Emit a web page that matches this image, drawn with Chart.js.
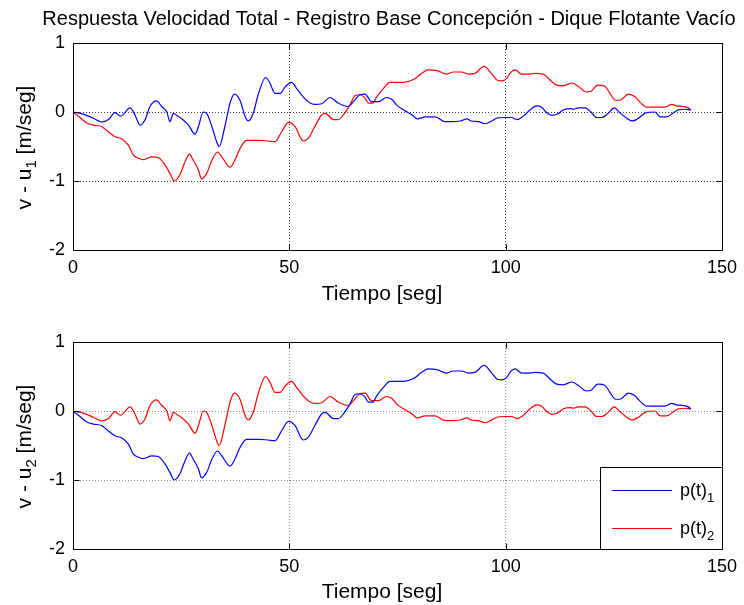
<!DOCTYPE html>
<html lang="es">
<head>
<meta charset="UTF-8" />
<title>Respuesta Velocidad Total</title>
<script src="https://cdn.jsdelivr.net/npm/chart.js@4.4.1/dist/chart.umd.min.js"></script>
<style>
  body { margin: 0; background: #fff; }
  .panel { position: absolute; left: 0; width: 744px; }
</style>
</head>
<body>
<div class="panel" style="top:0;height:310px"><canvas id="chartTop" width="744" height="310"></canvas></div>
<div class="panel" style="top:300px;height:305px"><canvas id="chartBottom" width="744" height="305"></canvas></div>
<script>
// record 1 (blue on top panel, red on bottom panel)
const tA = [
  0, 2.4, 4.7, 6.6, 8.2, 9.7, 11.0, 13.2, 14.3, 15.5,
  16.6, 17.8, 19.3, 20.5, 21.7, 22.4, 23.2, 24.0, 25.0, 26.7,
  28.2, 29.0, 30.1, 30.9, 32.1, 33.2, 33.8, 35.1, 36.3, 37.3,
  38.6, 39.8, 40.5, 41.7, 42.8, 44.5, 45.5, 46.7, 47.9, 49.0,
  50.5, 51.7, 53.2, 54.8, 55.9, 57.5, 59.4, 61.3, 63.6, 64.8,
  66.3, 67.5, 69.0, 70.6, 72.5, 73.7, 74.8, 76.7, 78.3, 79.6,
  81.4, 83.7, 86.0, 87.5, 89.5, 91.1, 92.0, 93.7, 95.2, 96.8,
  97.9, 99.5, 101.4, 102.6, 104.1, 105.6, 107.2, 108.3, 109.5, 110.7,
  112.0, 113.3, 114.9, 115.7, 116.8, 118.4, 119.7, 121.0, 122.2, 123.7,
  125.1, 126.4, 128.0, 129.3, 130.7, 132.2, 134.5, 135.7, 137.2, 138.8,
  139.9, 141.4, 142.8
];
const vA = [
  0, -0.03, -0.09, -0.145, -0.11, -0.01, -0.06, 0.06, -0.04, -0.19,
  -0.12, 0.08, 0.16, 0.08, 0.0, -0.14, -0.02, -0.05, -0.09, -0.19,
  -0.32, -0.21, 0.0, -0.02, -0.21, -0.43, -0.50, -0.21, 0.13, 0.26,
  0.17, -0.07, -0.13, -0.01, 0.25, 0.50, 0.42, 0.27, 0.27, 0.36,
  0.43, 0.34, 0.22, 0.13, 0.11, 0.12, 0.21, 0.13, 0.08, 0.15,
  0.25, 0.26, 0.15, 0.15, 0.21, 0.18, 0.10, 0.02, -0.04, -0.10,
  -0.07, -0.07, -0.14, -0.14, -0.13, -0.10, -0.13, -0.14, -0.17, -0.13,
  -0.09, -0.08, -0.08, -0.11, -0.06, 0.03, 0.09, 0.07, -0.01, -0.05,
  -0.03, 0.03, 0.05, 0.04, 0.06, 0.06, 0.0, -0.08, -0.08, -0.02,
  0.06, -0.01, -0.09, -0.13, -0.09, -0.02, 0.0, -0.07, -0.07, -0.01,
  0.03, 0.04, 0.03
];

// record 2 (red on top panel, blue on bottom panel)
const tB = [
  0, 1.6, 3.2, 4.7, 6.6, 8.2, 9.7, 11.3, 12.8, 13.9,
  15.1, 16.3, 18.2, 19.7, 21.3, 22.4, 23.4, 24.7, 25.9, 26.9,
  27.8, 29.0, 29.7, 30.9, 32.1, 33.4, 34.4, 36.3, 37.4, 38.6,
  40.1, 42.8, 45.1, 46.7, 48.2, 49.8, 51.3, 53.2, 54.4, 55.9,
  57.5, 58.3, 60.2, 61.3, 62.5, 64.0, 65.2, 66.3, 67.5, 68.3,
  69.3, 70.2, 71.7, 73.3, 76.4, 78.7, 80.6, 82.1, 84.1, 86.4,
  87.9, 89.8, 91.4, 92.9, 95.0, 96.8, 98.1, 99.1, 100.3, 101.0,
  102.2, 103.7, 105.6, 106.8, 108.7, 110.3, 111.8, 113.3, 115.3, 116.8,
  118.7, 119.7, 121.3, 123.0, 124.1, 125.4, 126.4, 128.4, 129.9, 131.1,
  132.6, 134.9, 136.8, 138.4, 139.5, 141.1, 142.2, 142.8
];
const vB = [
  0, -0.08, -0.16, -0.19, -0.21, -0.29, -0.36, -0.39, -0.48, -0.62,
  -0.67, -0.69, -0.65, -0.66, -0.77, -0.89, -1.0, -0.91, -0.72, -0.61,
  -0.70, -0.84, -0.97, -0.89, -0.70, -0.58, -0.65, -0.80, -0.70, -0.53,
  -0.41, -0.41, -0.42, -0.43, -0.29, -0.15, -0.21, -0.42, -0.38, -0.21,
  -0.04, -0.02, -0.11, -0.11, -0.04, 0.10, 0.24, 0.25, 0.20, 0.13,
  0.13, 0.22, 0.34, 0.43, 0.43, 0.47, 0.56, 0.61, 0.60, 0.55,
  0.58, 0.58, 0.55, 0.56, 0.66, 0.55, 0.46, 0.45, 0.49, 0.56,
  0.61, 0.55, 0.55, 0.56, 0.55, 0.46, 0.39, 0.38, 0.42, 0.37,
  0.29, 0.30, 0.39, 0.37, 0.27, 0.17, 0.17, 0.26, 0.22, 0.14,
  0.07, 0.07, 0.07, 0.11, 0.09, 0.08, 0.06, 0.03
];

const xTicks = [0, 50, 100, 150];
const yTicks = [1, 0, -1, -2];
const titleText = "Respuesta Velocidad Total - Registro Base Concepción - Dique Flotante Vacío";
const xTitle = "Tiempo [seg]";
const legendLabels = ["p(t)", "p(t)"];
const legendSubs = ["1", "2"];

const FONT = '"Liberation Sans", Arial, sans-serif';
const FS = 18;      // tick labels, legend
const FS_LAB = 21;  // axis titles
const FS_TTL = 20;  // figure title

function pts(t, v) {
  return t.map((x, i) => ({ x: x, y: v[i] }));
}

const decoPlugin = {
  id: "deco",
  afterDraw(chart, args, opts) {
    const ctx = chart.ctx;
    const a = chart.chartArea;
    const xs = chart.scales.x, ys = chart.scales.y;
    ctx.save();
    ctx.fillStyle = "#000";
    ctx.strokeStyle = "#000";
    ctx.lineWidth = 1;

    // axes box + inward ticks
    const L = Math.round(a.left) + 0.5, R = Math.round(a.right) + 0.5;
    const T = Math.round(a.top) + 0.5, B = Math.round(a.bottom) + 0.5;
    ctx.strokeRect(L, T, R - L, B - T);
    ctx.beginPath();
    xTicks.forEach(v => {
      const x = Math.round(xs.getPixelForValue(v)) + 0.5;
      ctx.moveTo(x, T); ctx.lineTo(x, T + 6);
      ctx.moveTo(x, B); ctx.lineTo(x, B - 6);
    });
    yTicks.forEach(v => {
      const y = Math.round(ys.getPixelForValue(v)) + 0.5;
      ctx.moveTo(L, y); ctx.lineTo(L + 6, y);
      ctx.moveTo(R, y); ctx.lineTo(R - 6, y);
    });
    ctx.stroke();

    // title
    if (opts.title) {
      ctx.font = FS_TTL + "px " + FONT;
      ctx.textAlign = "center";
      ctx.textBaseline = "middle";
      ctx.fillText(opts.title, 389, 19);
    }

    // x axis title
    ctx.font = FS_LAB + "px " + FONT;
    ctx.textAlign = "center";
    ctx.textBaseline = "middle";
    ctx.fillText(xTitle, 382, opts.xTitleY);

    // y axis title with subscript
    ctx.save();
    ctx.translate(24, (a.top + a.bottom) / 2 + 1);
    ctx.rotate(-Math.PI / 2);
    ctx.textAlign = "left";
    ctx.textBaseline = "alphabetic";
    const big = FS_LAB + "px " + FONT, small = Math.round(FS_LAB * 0.72) + "px " + FONT;
    ctx.font = big;
    const p1 = "v - u", p3 = " [m/seg]";
    const w1 = ctx.measureText(p1).width, w3 = ctx.measureText(p3).width;
    ctx.font = small;
    const w2 = ctx.measureText(opts.ySub).width;
    const x0 = -(w1 + w2 + w3) / 2;
    ctx.font = big; ctx.fillText(p1, x0, 7);
    ctx.font = small; ctx.fillText(opts.ySub, x0 + w1, 12);
    ctx.font = big; ctx.fillText(p3, x0 + w1 + w2, 7);
    ctx.restore();

    // legend
    if (opts.legend) {
      const lx = 600.5, ly = a.bottom - 82 + 0.5;
      const lbig = FS + "px " + FONT, lsmall = Math.round(FS * 0.72) + "px " + FONT;
      ctx.fillStyle = "#fff";
      ctx.fillRect(lx, ly, R - lx, B - ly);
      ctx.strokeRect(lx, ly, R - lx, B - ly);
      const rows = [
        { color: "#0000ff", y: ly + 22 },
        { color: "#ff0000", y: ly + 60 }
      ];
      rows.forEach((r, i) => {
        ctx.strokeStyle = r.color;
        ctx.beginPath();
        ctx.moveTo(612, Math.round(r.y) + 0.5);
        ctx.lineTo(672, Math.round(r.y) + 0.5);
        ctx.stroke();
        ctx.fillStyle = "#000";
        ctx.textAlign = "left";
        ctx.textBaseline = "alphabetic";
        ctx.font = lbig;
        ctx.fillText(legendLabels[i], 680, r.y + 6);
        const w = ctx.measureText(legendLabels[i]).width;
        ctx.font = lsmall;
        ctx.fillText(legendSubs[i], 680 + w, r.y + 12);
      });
    }
    ctx.restore();
  }
};

function makeChart(id, datasets, deco, padTop, xAxisH) {
  const gridColor = deco.gridColor;
  return new Chart(document.getElementById(id), {
    type: "line",
    data: { datasets: datasets },
    options: {
      responsive: false,
      animation: false,
      devicePixelRatio: 1,
      layout: { padding: { top: padTop, right: 20, left: 0, bottom: 0 } },
      elements: { point: { radius: 0 }, line: { borderWidth: 1.2, cubicInterpolationMode: "monotone" } },
      scales: {
        x: {
          type: "linear", min: 0, max: 150,
          afterBuildTicks: s => { s.ticks = xTicks.map(v => ({ value: v })); },
          afterFit: s => { s.height = xAxisH; },
          grid: {
            drawTicks: false, lineWidth: 1,
            color: c => (c.tick && (c.tick.value === 0 || c.tick.value === 150)) ? "rgba(0,0,0,0)" : gridColor
          },
          border: { display: true, color: "#000", width: 1, dash: [1, 2] },
          ticks: { color: "#000", padding: 7, maxRotation: 0, font: { family: FONT, size: FS } }
        },
        y: {
          min: -2, max: 1,
          afterBuildTicks: s => { s.ticks = yTicks.map(v => ({ value: v })); },
          afterFit: s => { s.width = 73; },
          grid: {
            drawTicks: false, lineWidth: 1,
            color: c => (c.tick && (c.tick.value === 1 || c.tick.value === -2)) ? "rgba(0,0,0,0)" : gridColor
          },
          border: { display: true, color: "#000", width: 1, dash: [1, 2] },
          ticks: { color: "#000", padding: 8, font: { family: FONT, size: FS } }
        }
      },
      plugins: {
        legend: { display: false },
        tooltip: { enabled: false },
        deco: deco
      }
    },
    plugins: [decoPlugin]
  });
}

makeChart("chartTop", [
  { label: "p(t)1", data: pts(tA, vA), borderColor: "#0000ff" },
  { label: "p(t)2", data: pts(tB, vB), borderColor: "#ff0000" }
], { title: titleText, ySub: "1", xTitleY: 294, legend: false, gridColor: "rgba(0,0,0,0.75)" }, 43, 60);

makeChart("chartBottom", [
  { label: "p(t)1", data: pts(tB, vB), borderColor: "#0000ff" },
  { label: "p(t)2", data: pts(tA, vA), borderColor: "#ff0000" }
], { title: "", ySub: "2", xTitleY: 292, legend: true, gridColor: "rgba(0,0,0,0.45)" }, 42, 56);
</script>
</body>
</html>
